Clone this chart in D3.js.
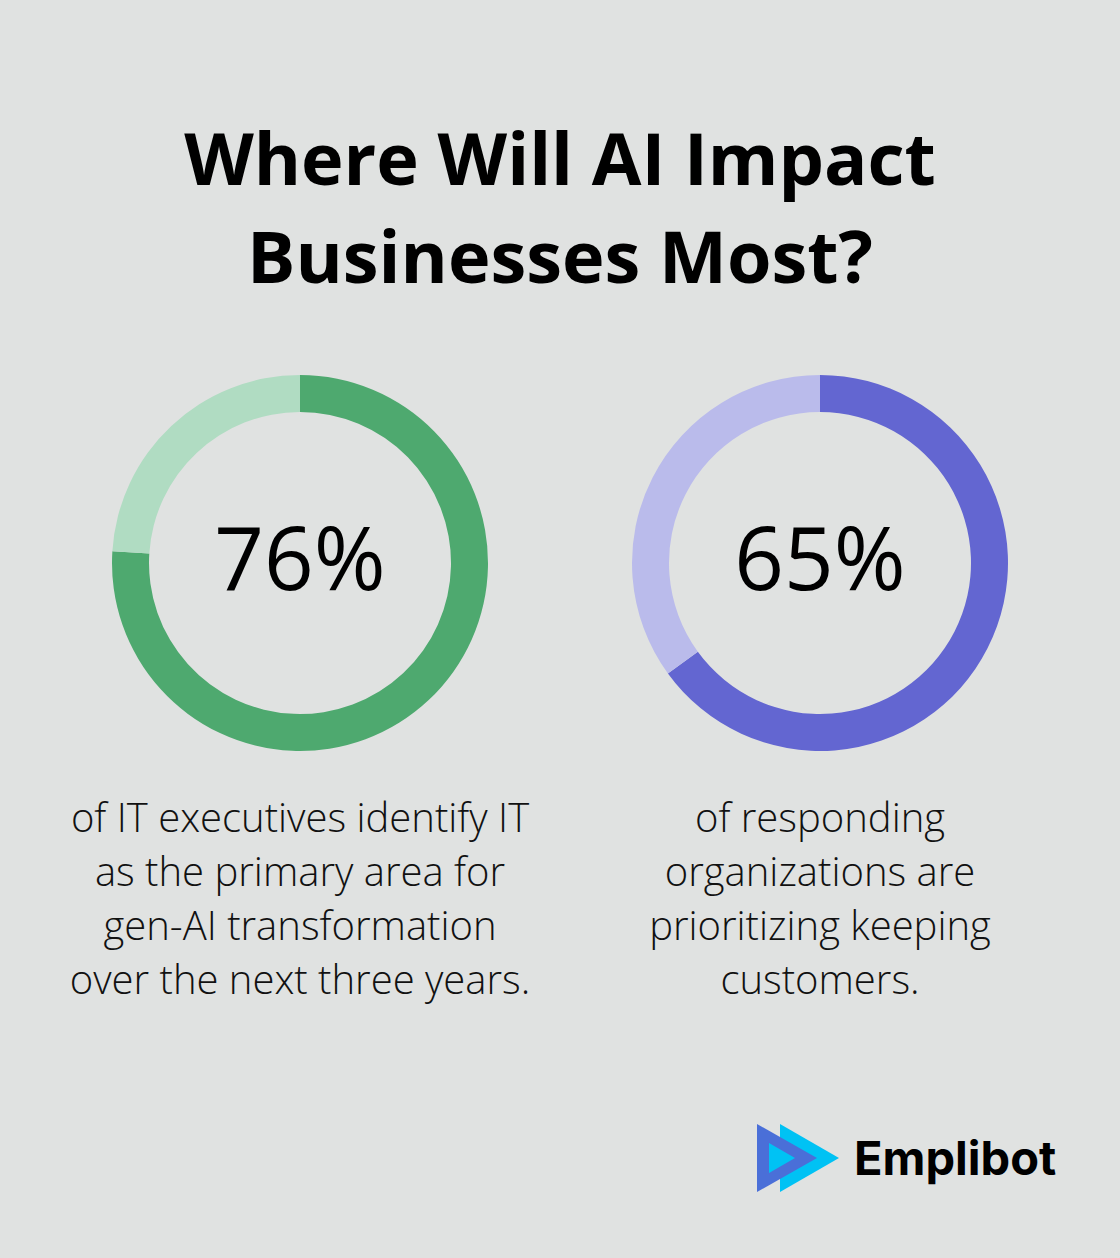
<!DOCTYPE html>
<html>
<head>
<meta charset="utf-8">
<script src="https://cdn.jsdelivr.net/npm/d3@7"></script>
<style>
  html, body { margin: 0; padding: 0; background: #e0e2e1; }
  svg { display: block; }
</style>
</head>
<body>
<svg id="drawing_region"></svg>
<script>
// chart values
const titleLines = ["Where Will AI Impact", "Businesses Most?"];
const percents = [76, 65];
const percentLabels = ["76%", "65%"];
const descriptions = [
    ["of IT executives identify IT", "as the primary area for", "gen-AI transformation", "over the next three years."],
    ["of responding", "organizations are", "prioritizing keeping", "customers."]
];
const darkColors = ["#4ea96f", "#6366d1"];
const lightColors = ["#b0dcc2", "#babbeb"];

const width = 1120, height = 1258;

const svg = d3.select('#drawing_region')
    .attr('width', width)
    .attr('height', height);

svg.append('rect')
    .attr('width', width)
    .attr('height', height)
    .attr('fill', '#e0e2e1');

// title
svg.append('g').selectAll('text')
    .data(titleLines)
    .enter()
    .append('text')
    .attr('x', width / 2)
    .attr('y', (d, i) => 185 + i * 98)
    .attr('text-anchor', 'middle')
    .attr('font-family', 'Open Sans')
    .attr('font-weight', 700)
    .attr('font-size', '72px')
    .attr('fill', '#000')
    .text(d => d);

// donuts
const xScale = d3.scalePoint()
    .domain(d3.range(percents.length))
    .range([300, 820]);

const pie = d3.pie().sort(null).value(d => d);
const arc = d3.arc().innerRadius(151).outerRadius(188);

const charts = svg.selectAll('.donut')
    .data(percents)
    .enter()
    .append('g')
    .attr('class', 'donut')
    .attr('transform', (d, i) => `translate(${xScale(i)}, 563)`);

charts.each(function(p, i) {
    const g = d3.select(this);
    g.selectAll('path')
        .data(pie([p, 100 - p]))
        .enter()
        .append('path')
        .attr('d', arc)
        .attr('fill', (d, j) => j === 0 ? darkColors[i] : lightColors[i]);

    g.append('text')
        .attr('y', 27)
        .attr('text-anchor', 'middle')
        .attr('font-family', 'Open Sans')
        .attr('font-weight', 500)
        .attr('font-size', '87px')
        .attr('fill', '#000')
        .text(percentLabels[i]);

    g.selectAll('.desc')
        .data(descriptions[i])
        .enter()
        .append('text')
        .attr('class', 'desc')
        .attr('y', (d, k) => 269 + k * 54)
        .attr('text-anchor', 'middle')
        .attr('font-family', 'Open Sans')
        .attr('font-weight', 300)
        .attr('font-size', '40px')
        .attr('fill', '#111')
        .text(d => d);
});

// logo
const logo = svg.append('g').attr('transform', 'translate(757, 1124)');
logo.append('path').attr('d', 'M23,0 L82,34 L23,68 Z').attr('fill', '#00c2f4');
logo.append('path').attr('d', 'M0,0 L60,34 L0,68 Z').attr('fill', '#4a6fd8');
logo.append('path').attr('d', 'M12,19 L38,34 L12,49 Z').attr('fill', '#00c2f4');
logo.append('text')
    .attr('x', 97)
    .attr('y', 51)
    .attr('font-family', 'Inter')
    .attr('font-weight', 700)
    .attr('font-size', '47px')
    .attr('fill', '#000')
    .text('Emplibot');
</script>
</body>
</html>
